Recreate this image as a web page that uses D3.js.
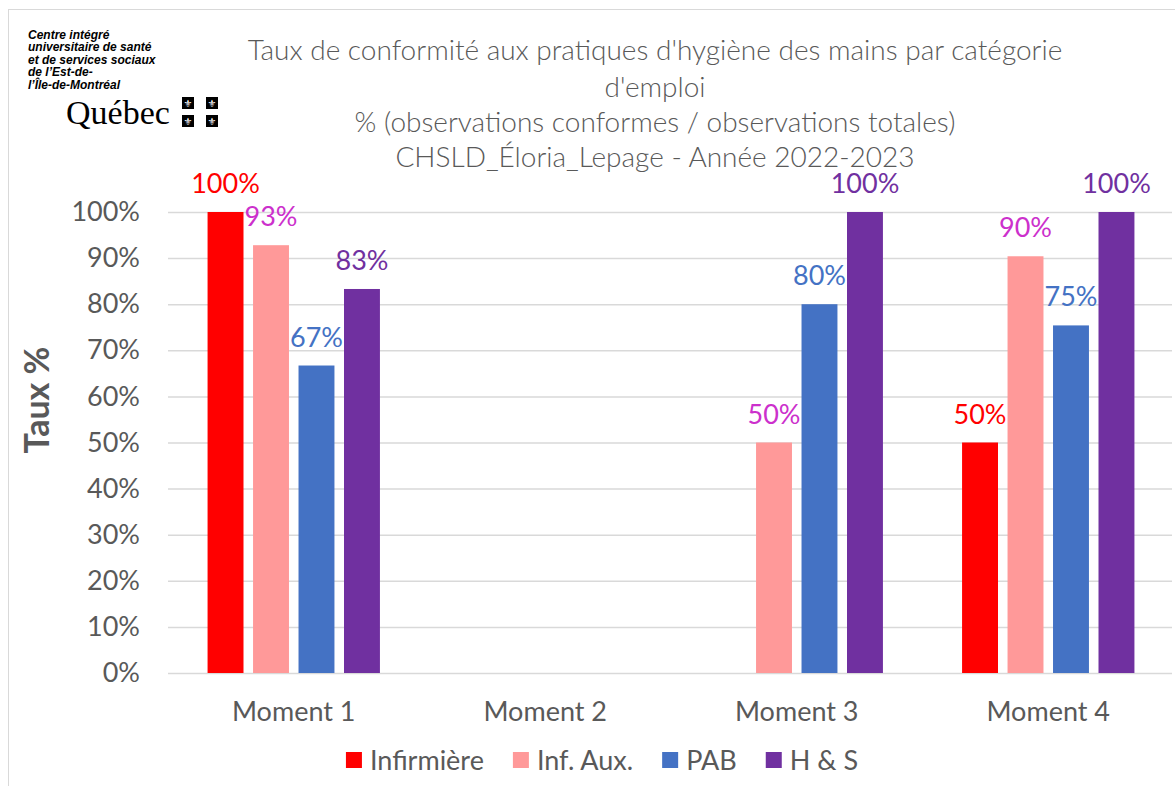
<!DOCTYPE html>
<head>
<meta charset="UTF-8">
<title>Taux de conformité - hygiène des mains</title>
<script type="text/javascript" src="https://cdnjs.cloudflare.com/ajax/libs/d3/7.8.5/d3.min.js"></script>
<style>
body
{
margin:0;
background:white;
}
text
{
font-family:Lato, "Open Sans", sans-serif;
}
.title
{
font-size:28px;
font-weight:300;
fill:#595959;
}
.tick text
{
font-size:27px;
fill:#595959;
}
.logo
{
font-family:"Liberation Sans", Arial, sans-serif;
font-size:12px;
font-weight:bold;
font-style:italic;
fill:black;
}
</style>
</head>

<body>
<div id="chart"></div>

<script type="text/javascript">
var moments=["Moment 1","Moment 2","Moment 3","Moment 4"];
var series=["Infirmière","Inf. Aux.","PAB","H & S"];
var infirmiere=[1.00,null,null,0.50];
var infAux=[0.928,null,0.50,0.904];
var pab=[0.667,null,0.80,0.754];
var hs=[0.833,null,1.00,1.00];
var yTicks=[0,0.1,0.2,0.3,0.4,0.5,0.6,0.7,0.8,0.9,1.0];
var titleLines=["Taux de conformité aux pratiques d'hygiène des mains par catégorie","d'emploi","% (observations conformes / observations totales)","CHSLD_Éloria_Lepage - Année 2022-2023"];
var logoLines=["Centre intégré","universitaire de santé","et de services sociaux","de l’Est-de-","l’Île-de-Montréal"];

var barColors=["#FF0000","#FF9999","#4472C4","#7030A0"];
var labelColors=["#FF0000","#CC30CC","#4472C4","#7030A0"];

var width=1175, height=786;
var plotLeft=168, plotRight=1174, plotTop=212, plotBottom=673;

var svg=d3.select("#chart").append("svg").attr("width",width).attr("height",height);

// chart border (only left and top are inside the picture)
svg.append("rect")
  .attr("x",8.5).attr("y",9.5)
  .attr("width",1200).attr("height",800)
  .attr("fill","none").attr("stroke","#D9D9D9");

// build rows from the arrays
var columns=[infirmiere,infAux,pab,hs];
var rows=moments.map(function(m,i){
  return {moment:m,values:series.map(function(s,j){return {key:s,idx:j,value:columns[j][i]};})};
});

var x0=d3.scaleBand().domain(moments).range([plotLeft,plotRight]).padding(0);
var x1=d3.scaleBand().domain(series).range([0,x0.bandwidth()]).paddingInner(0.21).paddingOuter(0.87);
var y=d3.scaleLinear().domain([0,1]).range([plotBottom,plotTop]);

// gridlines + y labels
var yAxis=svg.append("g")
  .attr("transform","translate("+plotLeft+",0)")
  .call(d3.axisLeft(y).tickValues(yTicks).tickFormat(d3.format(".0%")).tickSize(-(plotRight-2-plotLeft)).tickPadding(28));
yAxis.select(".domain").remove();
yAxis.selectAll(".tick line").attr("stroke","#D9D9D9").attr("stroke-width",1.5);

// bars
var groups=svg.selectAll(".grp").data(rows).enter().append("g")
  .attr("class","grp")
  .attr("transform",function(d){return "translate("+x0(d.moment)+",0)";});

var items=groups.selectAll("g").data(function(d){return d.values.filter(function(v){return v.value!=null;});}).enter().append("g");

items.append("rect")
  .attr("x",function(d){return x1(d.key);})
  .attr("y",function(d){return y(d.value);})
  .attr("width",x1.bandwidth())
  .attr("height",function(d){return plotBottom-y(d.value);})
  .attr("fill",function(d){return barColors[d.idx];});

items.append("text")
  .attr("x",function(d){return x1(d.key)+x1.bandwidth()/2;})
  .attr("y",function(d){return y(d.value)-19;})
  .attr("text-anchor","middle")
  .style("font-size","27px")
  .attr("fill",function(d){return labelColors[d.idx];})
  .text(function(d){return d3.format(".0%")(d.value);});

// category labels
svg.selectAll(".cat").data(moments).enter().append("text")
  .attr("x",function(d){return x0(d)+x0.bandwidth()/2;})
  .attr("y",721)
  .attr("text-anchor","middle")
  .style("font-size","27px")
  .attr("fill","#595959")
  .text(function(d){return d;});

// y axis title
svg.append("text")
  .attr("transform","translate(49,400) rotate(-90)")
  .attr("text-anchor","middle")
  .style("font-size","34px")
  .style("font-weight","bold")
  .attr("fill","#595959")
  .text("Taux %");

// title
svg.selectAll(".title").data(titleLines).enter().append("text")
  .attr("class","title")
  .attr("x",655)
  .attr("y",function(d,i){return [60,97,132,167][i];})
  .attr("text-anchor","middle")
  .text(function(d){return d;});

// legend, laid out from measured text widths
var legend=svg.append("g");
var lx=0;
series.forEach(function(s,i){
  var g=legend.append("g").attr("transform","translate("+lx+",0)");
  g.append("rect").attr("x",0).attr("y",752).attr("width",16).attr("height",16).attr("fill",barColors[i]);
  var t=g.append("text").attr("x",24).attr("y",770).style("font-size","27px").attr("fill","#595959").text(s);
  lx+=24+t.node().getComputedTextLength()+29;
});
lx-=29;
legend.attr("transform","translate("+(602-lx/2)+",0)");

// logo block
svg.selectAll(".logo").data(logoLines).enter().append("text")
  .attr("class","logo")
  .attr("x",28)
  .attr("y",function(d,i){return 39+i*12.4;})
  .text(function(d){return d;});

svg.append("text")
  .attr("x",66).attr("y",124)
  .style("font-family","'Liberation Serif', serif")
  .style("font-size","34px")
  .attr("fill","black")
  .text("Québec");

var flags=[[182,97],[206,97],[182,115],[206,115]];
flags.forEach(function(f){
  svg.append("rect").attr("x",f[0]).attr("y",f[1]).attr("width",12).attr("height",12).attr("fill","black");
  svg.append("text").attr("x",f[0]+6).attr("y",f[1]+10).attr("text-anchor","middle")
    .style("font-family","'DejaVu Sans'").style("font-size","10px").attr("fill","white").text("⚜");
});
</script>
</body>
</html>
